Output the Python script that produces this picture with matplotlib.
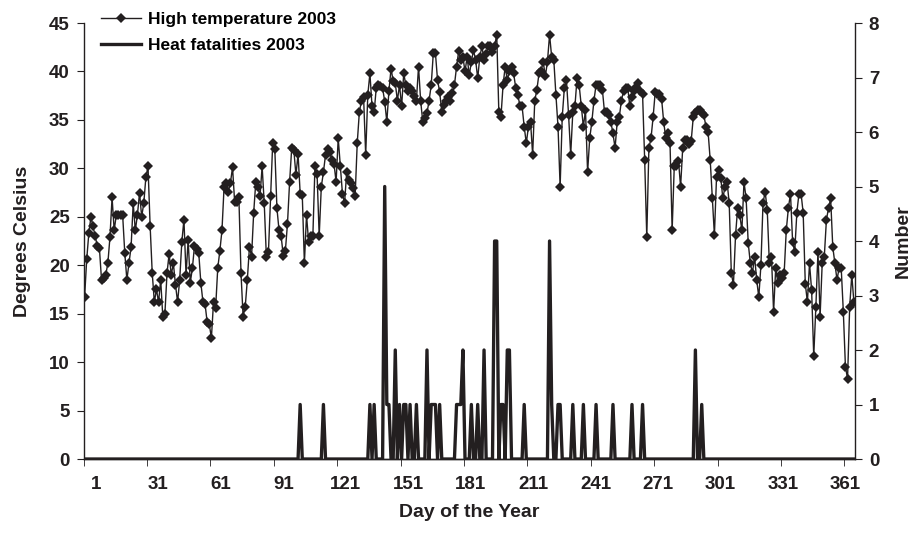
import matplotlib.pyplot as plt
import numpy as np

# Daily high temperature 2003 (deg C) in blocks of 40 days
temp_001_040 = [16.7, 20.6, 23.3, 25.0, 24.0, 23.0, 22.0, 21.8, 18.5, 18.7,
                19.0, 20.2, 22.9, 27.0, 23.6, 25.2, 25.2, 25.2, 25.2, 21.3,
                18.5, 20.2, 21.9, 26.4, 23.6, 25.2, 27.5, 25.0, 26.4, 29.1,
                30.2, 24.1, 19.2, 16.2, 17.5, 16.2, 18.5, 14.7, 15.0, 19.2]
temp_041_080 = [21.2, 19.0, 20.2, 18.0, 16.2, 18.5, 22.4, 24.7, 19.0, 22.6,
                18.2, 19.7, 22.0, 21.7, 21.3, 18.2, 16.2, 16.0, 14.1, 13.9,
                12.5, 16.2, 15.6, 19.7, 21.5, 23.6, 28.1, 28.5, 27.6, 28.5,
                30.1, 26.5, 26.5, 27.0, 19.2, 14.7, 15.7, 18.5, 21.9, 20.9]
temp_081_120 = [25.4, 28.6, 28.1, 27.1, 30.2, 26.4, 20.9, 21.4, 27.1, 32.6,
                32.0, 25.9, 23.6, 23.0, 21.0, 21.5, 24.3, 28.6, 32.1, 31.9,
                29.3, 31.5, 27.4, 27.2, 20.2, 25.2, 22.4, 23.0, 23.0, 30.2,
                29.4, 23.0, 28.1, 29.6, 31.4, 32.0, 31.7, 30.9, 30.5, 28.6]
temp_121_160 = [33.1, 30.2, 27.4, 26.4, 29.6, 28.8, 28.5, 28.0, 27.1, 32.6,
                35.8, 37.0, 37.4, 31.4, 37.6, 39.8, 36.4, 35.8, 38.3, 38.6,
                38.5, 38.3, 36.9, 34.8, 38.0, 40.3, 39.0, 38.8, 37.0, 38.6,
                36.4, 39.8, 38.6, 38.0, 38.3, 38.0, 37.5, 37.0, 40.5, 37.0]
temp_161_200 = [34.8, 35.2, 35.7, 37.0, 38.6, 41.9, 41.9, 39.1, 37.9, 35.8,
                36.5, 37.0, 37.4, 37.0, 37.8, 38.6, 40.5, 42.1, 41.2, 41.5,
                40.0, 41.5, 39.6, 41.0, 42.2, 41.2, 39.3, 41.5, 42.6, 41.2,
                41.8, 42.6, 42.6, 42.0, 42.6, 43.8, 35.8, 35.3, 38.6, 40.5]
temp_201_240 = [39.1, 40.0, 40.5, 39.8, 38.3, 37.6, 36.4, 36.4, 34.3, 32.6,
                34.3, 34.8, 31.4, 37.0, 38.1, 39.8, 40.1, 41.0, 39.5, 41.0,
                43.8, 41.5, 41.2, 37.6, 34.3, 28.1, 35.3, 38.3, 39.1, 35.5,
                31.4, 35.8, 36.4, 39.3, 38.6, 36.4, 34.3, 36.0, 29.6, 33.1]
temp_241_280 = [34.8, 37.0, 38.6, 38.6, 38.6, 38.1, 35.8, 35.8, 35.5, 34.8,
                33.6, 32.1, 34.8, 35.3, 37.0, 38.0, 38.3, 38.3, 36.4, 37.4,
                38.0, 38.4, 38.8, 38.0, 37.7, 30.9, 22.9, 32.1, 33.1, 35.3,
                37.9, 37.7, 37.7, 37.2, 34.8, 33.1, 33.6, 32.6, 23.6, 30.2]
temp_281_320 = [30.2, 30.8, 28.1, 32.1, 32.9, 32.9, 32.5, 32.8, 35.3, 35.7,
                36.0, 36.0, 35.7, 35.5, 34.3, 33.8, 30.9, 26.9, 23.1, 29.1,
                29.8, 29.0, 26.9, 28.1, 28.6, 26.4, 19.2, 18.0, 23.1, 25.9,
                25.2, 23.6, 28.6, 26.9, 22.3, 20.2, 19.2, 20.9, 18.5, 16.7]
temp_321_365 = [20.0, 26.4, 27.6, 25.7, 20.2, 20.9, 15.2, 19.7, 18.2, 19.0,
                18.7, 19.2, 23.6, 25.9, 27.4, 22.4, 21.4, 25.4, 27.4, 27.4,
                25.4, 18.1, 16.2, 20.2, 17.4, 10.6, 15.7, 21.4, 14.7, 20.2,
                20.9, 24.7, 25.9, 26.9, 21.9, 20.2, 18.5, 19.7, 19.7, 15.2,
                9.5, 8.3, 15.7, 19.0, 16.2]

# Heat fatalities 2003: only the days with deaths (all other days are 0)
fatal_days = [103, 114, 136, 138, 143, 144, 145, 148, 150, 152, 153, 155, 158,
              163, 165, 166, 167, 169, 177, 178, 179, 180, 184, 187, 190, 195,
              196, 198, 199, 201, 202, 209, 221, 222, 225, 226, 232, 237, 243,
              251, 260, 265, 290, 293]
fatal_counts = [1, 1, 1, 1, 5, 1, 1, 2, 1, 1, 1, 1, 1,
                2, 1, 1, 1, 1, 1, 1, 1, 2, 1, 1, 2, 4,
                4, 1, 1, 2, 2, 1, 4, 1, 1, 1, 1, 1, 1,
                1, 1, 1, 2, 1]

xtick_labels = ['1', '31', '61', '91', '121', '151', '181', '211', '241',
                '271', '301', '331', '361']

temp = np.array(temp_001_040 + temp_041_080 + temp_081_120 + temp_121_160 +
                temp_161_200 + temp_201_240 + temp_241_280 + temp_281_320 +
                temp_321_365)
days = np.arange(1, len(temp) + 1)
fatal = np.zeros(len(temp))
fatal[np.array(fatal_days) - 1] = fatal_counts

dark = '#231f20'
plt.rcParams['font.family'] = ['Liberation Sans', 'DejaVu Sans']
plt.rcParams['font.weight'] = 'bold'

fig = plt.figure(figsize=(9.14, 5.33), dpi=100)
ax = fig.add_axes([0.0914, 0.1388, 0.8440, 0.8180])
ax2 = ax.twinx()

l1, = ax.plot(days, temp, color=dark, lw=1.0, marker='D', ms=5.6,
              markeredgewidth=0, label='High temperature 2003')
l2, = ax2.plot(days, fatal, color=dark, lw=2.4, label='Heat fatalities 2003')

ax.set_xlim(0.5, 365.5)
ax.set_ylim(0, 45)
ax2.set_ylim(0, 8)
ax.set_yticks(np.arange(0, 46, 5))
ax2.set_yticks(np.arange(0, 9, 1))
# the category labels sit a little right of the group tick marks
label_pos = np.linspace(6.4, 361.0, len(xtick_labels))
ax.set_xticks(label_pos)
ax.set_xticklabels(xtick_labels)
ax.set_xticks(np.arange(0.5, 366, 30), minor=True)

for a in (ax, ax2):
    a.spines['top'].set_visible(False)
    for s in a.spines.values():
        s.set_color(dark)
        s.set_linewidth(1.0)
ax2.spines['left'].set_visible(False)
ax.spines['right'].set_visible(False)

ax.tick_params(axis='x', which='major', length=0, pad=12, labelsize=13.5, colors=dark)
ax.tick_params(axis='x', which='minor', length=5, direction='out', color=dark)
ax.tick_params(axis='y', length=5, direction='out', labelsize=13.5, colors=dark, pad=5)
ax2.tick_params(axis='y', length=5, direction='out', labelsize=13.5, colors=dark, pad=5)

ax.set_xlabel('Day of the Year', fontsize=14, fontweight='bold', color=dark, labelpad=8)
ax.set_ylabel('Degrees Celsius', fontsize=14, fontweight='bold', color=dark, labelpad=13)
ax2.set_ylabel('Number', fontsize=14, fontweight='bold', color=dark, labelpad=11)

fig.legend(handles=[l1, l2], loc='upper left', bbox_to_anchor=(0.097, 1.0),
           frameon=False, fontsize=12.5, handlelength=2.3, handletextpad=0.4,
           labelspacing=0.6, borderpad=0.2)

fig.savefig('out.png', dpi=100)
